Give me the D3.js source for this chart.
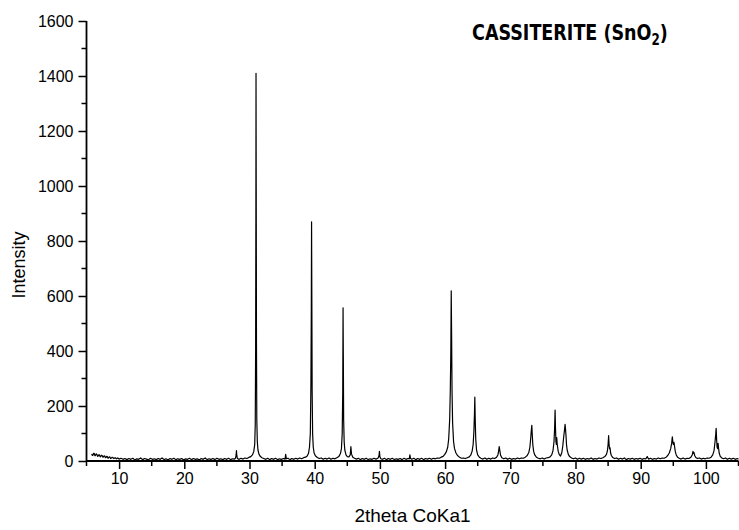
<!DOCTYPE html>
<html>
<head>
<meta charset="utf-8">
<script src="https://cdn.jsdelivr.net/npm/d3@7/dist/d3.min.js"></script>
<style>
  html, body { margin: 0; padding: 0; background: #fff; }
  svg { display: block; }
</style>
</head>
<body>
<svg id="chart" width="739" height="530"></svg>
<script>
// ---- Data ----
const chartTitle = "CASSITERITE (SnO";
const titleSub = "2";
const xLabel = "2theta CoKa1";
const yLabel = "Intensity";
const xDomain = [5, 105];
const yDomain = [0, 1600];
const xTickValues = [10, 20, 30, 40, 50, 60, 70, 80, 90, 100];
const xMinorTickValues = [5, 15, 25, 35, 45, 55, 65, 75, 85, 95, 105];
const yTickValues = [0, 200, 400, 600, 800, 1000, 1200, 1400, 1600];
const yMinorTickValues = [100, 300, 500, 700, 900, 1100, 1300, 1500];

// Diffraction scan: [2theta, intensity]
const scanLowAngle = [
  [5.8,26],[5.9,20],[6.0,22],[6.1,28],[6.2,27],[6.3,19],[6.4,21],[6.5,26],[6.6,24],[6.7,17],[6.8,18],[6.9,23],
  [7.0,22],[7.1,15],[7.2,17],[7.3,21],[7.4,20],[7.5,14],[7.6,15],[7.7,19],[7.8,18],[7.9,12],[8.0,13],[8.1,17],
  [8.2,16],[8.3,10],[8.4,12],[8.5,15],[8.6,14],[8.7,9],[8.8,10],[8.9,13],[9.0,13],[9.2,9],[9.4,12],[9.6,8],
  [9.8,11],[10.0,7],[10.3,10],[10.6,6],[10.9,9],[11.2,5],[11.5,9],[11.8,6],[12.1,10],[12.4,4],
  [12.7,8],[13.0,6],[13.3,11],[13.6,5],[13.9,9],[14.2,7],[14.5,4],[14.8,10],[15.1,6],[15.4,8],
  [15.7,5],[16.0,9],[16.3,6],[16.6,11],[16.9,5],[17.2,8],[17.5,4],[17.8,9],[18.1,6],[18.4,10],
  [18.7,5],[19.0,8],[19.3,6],[19.6,9],[19.9,4],[20.2,8],[20.5,6],[20.8,10],[21.1,5],[21.4,9],
  [21.7,6],[22.0,8],[22.3,4],[22.6,9],[22.9,6],[23.2,11],[23.5,5],[23.8,8],[24.1,6],[24.4,9],
  [24.7,5],[25.0,10],[25.3,6],[25.6,8],[25.9,5],[26.2,9],[26.5,6],[26.8,10],[27.1,5],[27.4,8],
  [27.7,7],[27.85,10],[27.95,22],[28.0,38],[28.05,20],[28.15,9],[28.4,6],[28.7,10],[29.0,7],[29.3,11],
  [29.6,9],[29.9,13],[30.2,16],[30.45,22],[30.65,34],[30.8,60],[30.88,130],[30.94,400],[30.98,900],[31.0,1410],
  [31.03,1000],[31.07,420],[31.12,150],[31.2,70],[31.3,40],[31.45,25],[31.65,17],[31.9,12],[32.2,9],[32.5,6],
  [32.8,10],[33.1,5],[33.4,9],[33.7,6],[34.0,10],[34.3,5],[34.6,8],[34.9,6],[35.2,9],[35.45,7],
  [35.55,24],[35.65,8],[35.9,10],[36.2,5],[36.5,9],[36.8,6],[37.1,10],[37.4,7],[37.7,11],[38.0,8],
  [38.3,12],[38.6,14],[38.85,18],[39.05,28],[39.2,50],[39.33,100],[39.42,280],[39.48,550],[39.52,870],[39.56,600],
  [39.61,250],[39.68,100],[39.78,50],[39.9,30],[40.1,19],[40.4,13],[40.7,9],[41.0,11],[41.3,6],[41.6,10],
  [41.9,7],[42.2,11],[42.5,6],[42.8,10],[43.1,8],[43.4,12],[43.7,16],[43.95,27],[44.1,45],[44.22,100],
  [44.3,250],[44.35,557],[44.39,380],[44.44,150],[44.52,70],[44.62,40],[44.8,22],[45.0,16],[45.25,15],[45.45,22],
  [45.55,52],[45.65,25],[45.85,14],[46.1,10],[46.4,7],[46.7,10],[47.0,5],[47.3,9],[47.6,6],[47.9,10],
  [48.2,5],[48.5,8],[48.8,6],[49.1,10],[49.4,7],[49.7,10],[49.85,18],[49.93,35],[50.0,15],[50.15,8],
  [50.4,6],[50.7,10],[51.0,5],[51.3,9],[51.6,6],[51.9,10],[52.2,5],[52.5,8],[52.8,6],[53.1,9],
  [53.4,5],[53.7,10],[54.0,6],[54.3,9],[54.5,8],[54.6,22],[54.7,9],[54.9,6]
];
const scanHighAngle = [
  [55.2,10],[55.5,5],[55.8,9],[56.1,6],[56.4,10],[56.7,5],[57.0,9],[57.3,7],[57.6,10],[57.9,6],
  [58.2,10],[58.5,8],[58.8,11],[59.1,10],[59.4,14],[59.7,17],[59.95,24],[60.2,34],[60.4,50],[60.55,80],
  [60.7,150],[60.8,260],[60.88,400],[60.94,619],[61.0,450],[61.06,260],[61.15,140],[61.3,70],[61.45,45],[61.65,30],
  [61.9,20],[62.2,14],[62.5,10],[62.8,11],[63.1,9],[63.4,12],[63.7,15],[63.95,22],[64.15,36],[64.3,60],
  [64.42,110],[64.5,170],[64.56,232],[64.62,150],[64.7,80],[64.82,40],[65.0,22],[65.25,14],[65.5,10],[65.8,7],
  [66.1,11],[66.4,6],[66.7,10],[67.0,7],[67.3,11],[67.6,9],[67.9,14],[68.1,22],[68.22,38],[68.3,52],
  [68.38,40],[68.5,22],[68.7,12],[69.0,8],[69.3,11],[69.6,6],[69.9,10],[70.2,6],[70.5,9],[70.8,7],
  [71.1,11],[71.4,8],[71.7,11],[72.0,10],[72.3,14],[72.6,20],[72.85,32],[73.0,50],[73.12,80],[73.22,110],
  [73.3,130],[73.36,100],[73.45,60],[73.58,35],[73.75,22],[74.0,14],[74.3,10],[74.6,8],[74.9,11],[75.2,7],
  [75.5,11],[75.8,12],[76.1,15],[76.35,22],[76.55,38],[76.7,70],[76.8,120],[76.87,185],[76.93,120],[77.0,70],
  [77.07,60],[77.12,85],[77.2,60],[77.35,35],[77.5,24],[77.7,18],[77.9,30],[78.05,55],[78.2,90],[78.3,110],
  [78.4,133],[78.47,115],[78.55,90],[78.62,60],[78.72,40],[78.9,24],[79.1,16],[79.4,11],[79.7,8],[80.0,11],
  [80.3,6],[80.6,10],[80.9,7],[81.2,10],[81.5,6],[81.8,9],[82.1,7],[82.4,11],[82.7,6],[83.0,9],
  [83.3,7],[83.6,11],[83.9,9],[84.2,12],[84.5,16],[84.75,24],[84.9,38],[85.0,60],[85.08,92],[85.15,60],
  [85.22,45],[85.3,48],[85.38,30],[85.5,20],[85.7,13],[86.0,9],[86.3,11],[86.6,6],[86.9,10],[87.2,7],
  [87.5,11],[87.8,5],[88.1,9],[88.4,7],[88.7,10],[89.0,6],[89.3,9],[89.6,7],[89.9,10],[90.2,6],
  [90.5,9],[90.8,8],[91.0,16],[91.2,7],[91.5,10],[91.8,6],[92.1,9],[92.4,7],[92.7,11],[93.0,8],
  [93.3,11],[93.6,10],[93.9,14],[94.15,20],[94.4,30],[94.6,45],[94.75,65],[94.85,88],[94.93,70],[95.0,60],
  [95.1,68],[95.18,55],[95.3,35],[95.45,22],[95.65,14],[95.9,10],[96.2,7],[96.5,11],[96.8,7],[97.1,10],
  [97.4,9],[97.7,14],[97.9,22],[98.02,35],[98.1,28],[98.18,30],[98.28,20],[98.45,13],[98.7,9],[99.0,11],
  [99.3,7],[99.6,10],[99.9,8],[100.2,11],[100.5,10],[100.8,14],[101.05,22],[101.25,38],[101.4,70],[101.5,95],
  [101.57,119],[101.64,80],[101.72,50],[101.8,45],[101.87,64],[101.95,45],[102.05,28],[102.2,17],[102.45,11],[102.7,8],
  [103.0,11],[103.3,6],[103.6,10],[103.9,7],[104.2,10],[104.5,6],[104.8,9],[105.0,7]
];
const scan = scanLowAngle.concat(scanHighAngle);

// ---- Layout ----
const svg = d3.select("#chart");
const plot = { left: 86.5, right: 738.5, top: 21, bottom: 461 };

const x = d3.scaleLinear().domain(xDomain).range([plot.left, plot.right]);
const y = d3.scaleLinear().domain(yDomain).range([plot.bottom, plot.top]);

const fontFamily = "'Liberation Sans', Arial, sans-serif";

// Data line
const line = d3.line().x(d => x(d[0])).y(d => y(d[1]));
svg.append("path")
  .datum(scan)
  .attr("d", line)
  .attr("fill", "none")
  .attr("stroke", "#000")
  .attr("stroke-width", 1.2)
  .attr("stroke-linejoin", "round");

// X axis
const xAxis = svg.append("g").attr("transform", `translate(0,${plot.bottom})`);
xAxis.call(d3.axisBottom(x).tickValues(xTickValues).tickSize(8).tickPadding(4).tickFormat(d3.format("d")));
xAxis.append("g").selectAll("line").data(xMinorTickValues).join("line")
  .attr("x1", d => x(d)).attr("x2", d => x(d)).attr("y1", 0).attr("y2", 5)
  .attr("stroke", "#000").attr("stroke-width", 1.5);

// Y axis
const yAxis = svg.append("g").attr("transform", `translate(${plot.left},0)`);
yAxis.call(d3.axisLeft(y).tickValues(yTickValues).tickSize(8).tickPadding(5).tickFormat(d3.format("d")));
yAxis.append("g").selectAll("line").data(yMinorTickValues).join("line")
  .attr("y1", d => y(d)).attr("y2", d => y(d)).attr("x1", 0).attr("x2", -5)
  .attr("stroke", "#000").attr("stroke-width", 1.5);

[xAxis, yAxis].forEach(g => {
  g.select(".domain").attr("stroke", "#000").attr("stroke-width", 1.8);
  g.selectAll(".tick line").attr("stroke", "#000").attr("stroke-width", 1.5);
  g.selectAll(".tick text").attr("fill", "#000").attr("font-size", 16).attr("font-family", fontFamily);
});
xAxis.select(".domain").attr("d", `M${plot.left},0H${plot.right}`);
yAxis.select(".domain").attr("d", `M0,${plot.top}V${plot.bottom}`);

// Axis titles
svg.append("text")
  .attr("x", (plot.left + plot.right) / 2)
  .attr("y", 522)
  .attr("text-anchor", "middle")
  .attr("font-family", fontFamily)
  .attr("font-size", 19)
  .attr("fill", "#000")
  .text(xLabel);

svg.append("text")
  .attr("transform", `translate(25,${(plot.top + plot.bottom) / 2 + 24}) rotate(-90)`)
  .attr("text-anchor", "middle")
  .attr("font-family", fontFamily)
  .attr("font-size", 18)
  .attr("fill", "#000")
  .text(yLabel);

// Title
const title = svg.append("text")
  .attr("x", 0).attr("y", 0)
  .attr("font-family", "'Comic Sans MS', 'DejaVu Sans Condensed', 'DejaVu Sans', sans-serif")
  .attr("font-weight", "bold")
  .attr("font-size", 22)
  .attr("fill", "#000");
title.append("tspan").text(chartTitle);
title.append("tspan").attr("font-size", 15).attr("dy", 5).text(titleSub);
title.append("tspan").attr("dy", -5).text(")");
const bb = title.node().getBBox();
const targetW = 196;
const sx = targetW / bb.width;
title.attr("transform", `translate(${472 - bb.x * sx},39.5) scale(${sx},1)`);
</script>
</body>
</html>
